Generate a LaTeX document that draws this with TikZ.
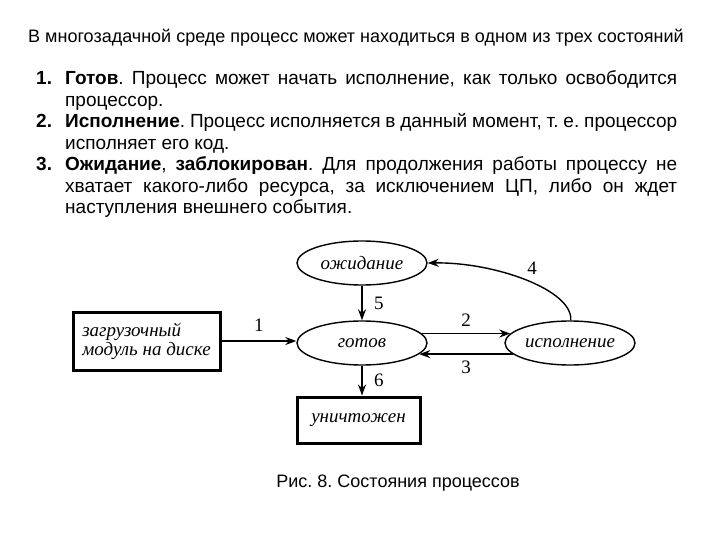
\documentclass[tikz,border=0pt]{standalone}
\usepackage{fontspec}
\setmainfont{Liberation Sans}
\newfontfamily\diagfont{Liberation Serif}
\usetikzlibrary{shapes.geometric,arrows.meta,positioning}

\newcommand{\stateitem}[2]{\par\noindent\hangindent=29pt\hangafter=1
  \makebox[29pt][l]{\textbf{#1.}}#2}

\tikzset{
  state/.style={ellipse,draw,line width=1.4pt,minimum width=130pt,
    minimum height=44pt,inner sep=0pt,
    font=\diagfont\itshape\fontsize{19}{20}\selectfont},
  store/.style={rectangle,draw,line width=3pt,inner sep=4pt,
    font=\diagfont\itshape\fontsize{19}{19}\selectfont},
  trans/.style={-{Stealth[length=11pt,width=8pt]},line width=1.4pt},
  num/.style={font=\diagfont\fontsize{19}{19}\selectfont}
}

\begin{document}
\frenchspacing
\begin{tikzpicture}[x=1pt,y=-1pt]
  \useasboundingbox[fill=white] (0,0) rectangle (720,540);

  % text above the diagram
  \node[anchor=base west,inner sep=0pt,font=\fontsize{18}{21}\selectfont]
    (title) at (28,43)
    {В многозадачной среде процесс может находиться в одном из трех состояний};
  \node[anchor=north west,inner sep=0pt,text width=641pt,align=justify,
    font={\fontsize{19}{21.5}\selectfont}] (items) at (36,63) {%
    \lineskiplimit=-20pt
    \stateitem{1}{\textbf{Готов}. Процесс может начать исполнение, как только освободится процессор.}
    \stateitem{2}{\textbf{Исполнение}. Процесс исполняется в данный момент, т.~е. процессор исполняет его код.}
    \stateitem{3}{\textbf{Ожидание}, \textbf{заблокирован}. Для продолжения работы процессу не хватает какого-либо ресурса, за исключением ЦП, либо он ждет наступления внешнего события.}\par};

  % states
  \node[state] (wait) at (362,263) {ожидание};
  \node[state] (ready) at (362,343) {готов};
  \node[state] (run) at (570,343) {исполнение};
  \node[store,minimum width=147pt,minimum height=58pt,align=left]
    (disk) at (146.5,341) {загрузочный\\модуль на диске};
  \node[store,minimum width=123pt,minimum height=46pt]
    (dead) at (358.5,420) {уничтожен};

  % transitions
  \draw[trans] (disk.east) -- (ready.west |- disk.east)
    node[num,midway,above=5pt] {1};
  \draw[trans] (ready.9) -- (run.171) node[num,midway,above=3pt] {2};
  \draw[trans] (run.191) -- (ready.-11) node[num,midway,below=3pt] {3};
  \draw[trans] (run.88) .. controls (573,290) and (495,262) .. (wait.east);
  \node[num] (four) at (532,268) {4};
  \draw[trans] (wait.south) -- (ready.north) node[num,midway,right=8pt] {5};
  \draw[trans] (ready.south) -- (ready.south |- dead.north)
    node[num,midway,right=8pt] {6};

  % caption
  \node[font=\fontsize{18}{21}\selectfont] (caption) at (398,483)
    {Рис. 8. Состояния процессов};
\end{tikzpicture}
\end{document}
